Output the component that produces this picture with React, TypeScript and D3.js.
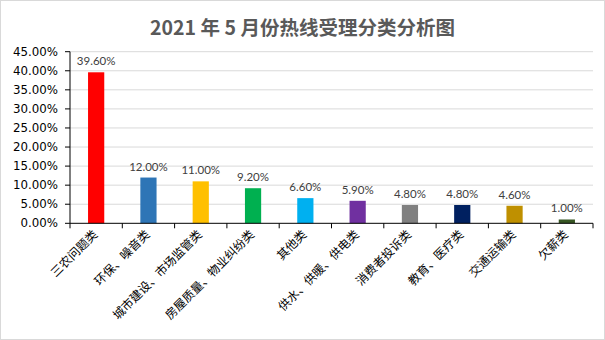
import React from "react";
import * as d3 from "d3";

const categories = ["三农问题类", "环保、噪音类", "城市建设、市场监管类", "房屋质量、物业纠纷类", "其他类", "供水、供暖、供电类", "消费者投诉类", "教育、医疗类", "交通运输类", "欠薪类"];
const values = [39.6, 12.0, 11.0, 9.2, 6.6, 5.9, 4.8, 4.8, 4.6, 1.0];
const colors = ["#FF0000", "#2E75B6", "#FFC000", "#00B050", "#00B0F0", "#7030A0", "#808080", "#002060", "#BF9000", "#375623"];
const yTicks = [0, 5, 10, 15, 20, 25, 30, 35, 40, 45];
const title = "2021 年 5 月份热线受理分类分析图";

const W = 605, H = 340;
const m = { left: 70, right: 12, top: 51.7, bottom: 116.7 };

export default function App() {
  const x = d3.scaleBand().domain(categories).range([m.left, W - m.right]).paddingInner(0.69).paddingOuter(0.345);
  const xb = d3.scaleBand().domain(categories).range([m.left, W - m.right]);
  const y = d3.scaleLinear().domain([0, 45]).range([H - m.bottom, m.top]);
  const y0 = y(0);
  const cjk = "'Noto Sans CJK SC', sans-serif";
  const num = "Lato, sans-serif";
  return (
    <svg width={W} height={H} style={{ position: "absolute", left: 0, top: 0, background: "#fff" }}>
      <rect x={0.5} y={0.5} width={W - 1} height={H - 1} fill="#fff" stroke="#d9d9d9" />
      <text x={W / 2} y={35} textAnchor="middle" fontFamily={cjk} fontWeight="bold" fontSize={19.5} fill="#595959">{title}</text>
      {yTicks.filter(t => t > 0).map(t => (
        <line key={"g" + t} x1={m.left} x2={W - m.right} y1={y(t)} y2={y(t)} stroke="#d9d9d9" strokeWidth={1} />
      ))}
      {categories.map((c, i) => (
        <rect key={c} x={x(c)} y={y(values[i])} width={x.bandwidth()} height={y0 - y(values[i])} fill={colors[i]} />
      ))}
      {categories.map((c, i) => (
        <text key={"l" + c} x={x(c)! + x.bandwidth() / 2} y={y(values[i]) - 7} textAnchor="middle" fontFamily={num} fontSize={11.5} fill="#404040">{values[i].toFixed(2)}%</text>
      ))}
      <line x1={m.left} x2={m.left} y1={m.top} y2={y0} stroke="#000" />
      <line x1={m.left} x2={W - m.right} y1={y0} y2={y0} stroke="#000" />
      {yTicks.map(t => (
        <g key={"t" + t}>
          <line x1={m.left - 5} x2={m.left} y1={y(t)} y2={y(t)} stroke="#000" />
          <text x={m.left - 12} y={y(t)} dy="0.35em" textAnchor="end" fontFamily="'DejaVu Sans', sans-serif" fontSize={11.8} fill="#000">{t.toFixed(2)}%</text>
        </g>
      ))}
      {categories.map((c, i) => (
        <line key={"xt" + i} x1={xb(c)} x2={xb(c)} y1={y0} y2={y0 + 5} stroke="#000" />
      ))}
      <line x1={W - m.right} x2={W - m.right} y1={y0} y2={y0 + 5} stroke="#000" />
      {categories.map(c => {
        const cx = xb(c)! + xb.bandwidth() / 2 + 2;
        return (
          <text key={"c" + c} transform={`translate(${cx},${y0 + 12}) rotate(-45)`} textAnchor="end" fontFamily={cjk} fontSize={12} fill="#000">{c}</text>
        );
      })}
    </svg>
  );
}
